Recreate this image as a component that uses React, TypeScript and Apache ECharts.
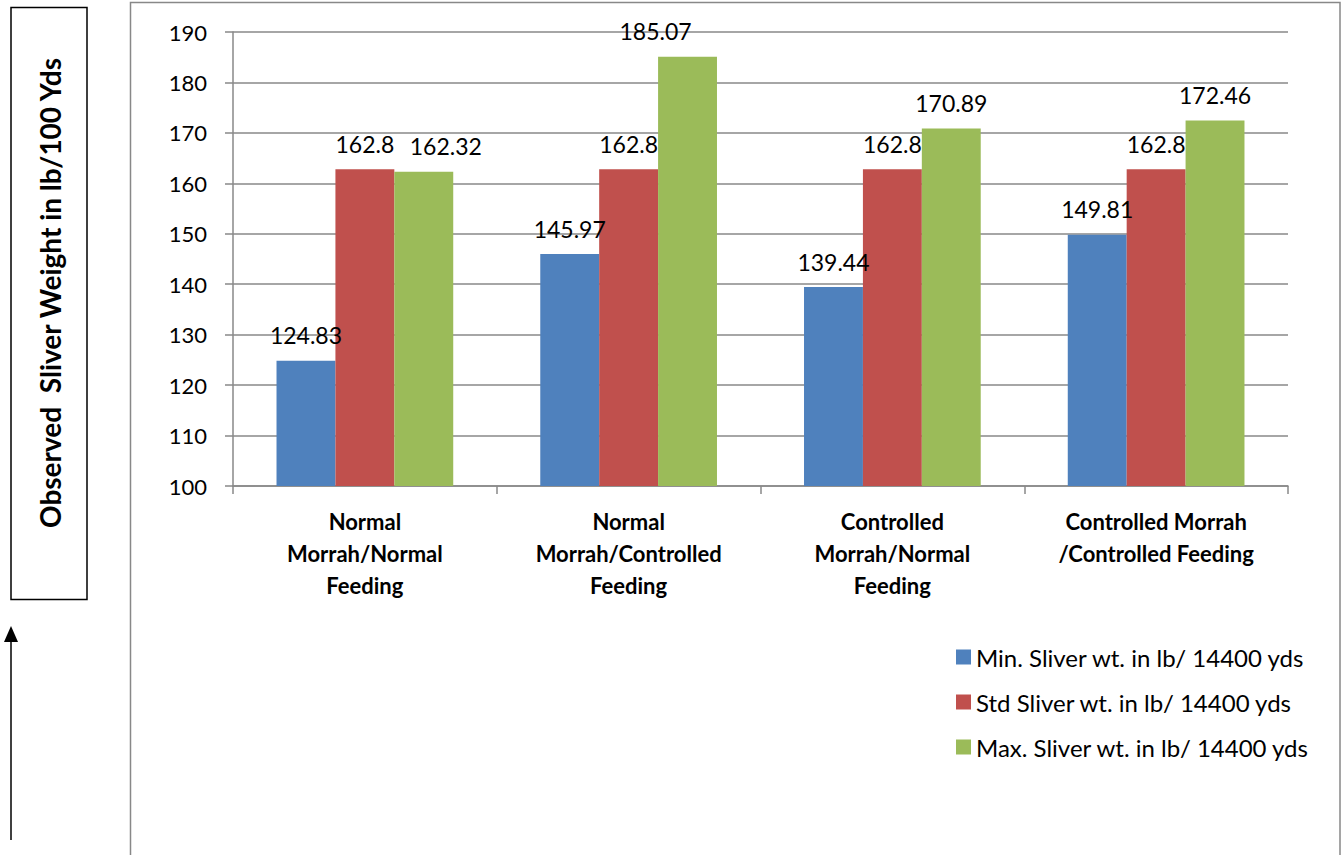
import React, { useEffect, useRef } from "react";
import * as echarts from "echarts";

const categories = [
  "Normal\nMorrah/Normal\nFeeding",
  "Normal\nMorrah/Controlled\nFeeding",
  "Controlled\nMorrah/Normal\nFeeding",
  "Controlled Morrah\n/Controlled Feeding",
];
const seriesNames = [
  "Min. Sliver wt. in lb/ 14400 yds",
  "Std Sliver wt. in lb/ 14400 yds",
  "Max. Sliver wt. in lb/ 14400 yds",
];
const minValues = [124.83, 145.97, 139.44, 149.81];
const stdValues = [162.8, 162.8, 162.8, 162.8];
const maxValues = [162.32, 185.07, 170.89, 172.46];
const yTicks = [100, 110, 120, 130, 140, 150, 160, 170, 180, 190];
const axisTitle = "Observed  Sliver Weight in lb/100 Yds";

const colors = ["#4F81BD", "#C0504D", "#9BBB59"];
const maxLabelOffsets = [[22, 0], [-32, 0], [0, 0], [0, 0]];
const FONT = "Lato, 'Open Sans', sans-serif";

export default function App() {
  const ref = useRef<HTMLDivElement>(null);
  useEffect(() => {
    if (!ref.current) return;
    const chart = echarts.init(ref.current, undefined, { renderer: "svg" });
    const labelBase = {
      show: true,
      position: "top",
      distance: 14,
      fontSize: 23,
      color: "#000",
      fontFamily: FONT,
    };
    const mk = (name: string, vals: number[], color: string, offsets?: number[][]) => ({
      name,
      type: "bar",
      barGap: "0%",
      barCategoryGap: "33%",
      itemStyle: { color },
      label: labelBase,
      data: vals.map((v, i) =>
        offsets ? { value: v, label: { offset: offsets[i] } } : v
      ),
    });
    chart.setOption({
      animation: false,
      textStyle: { fontFamily: FONT },
      grid: { left: 233, right: 53, top: 32, bottom: 369, containLabel: false },
      legend: {
        orient: "vertical",
        left: 951,
        top: 640,
        itemWidth: 15,
        itemHeight: 15,
        itemGap: 21,
        icon: "rect",
        textStyle: { fontSize: 24, color: "#000", fontFamily: FONT },
        data: seriesNames,
      },
      xAxis: {
        type: "category",
        data: categories,
        axisLine: { lineStyle: { color: "#888", width: 1.5 } },
        axisTick: { show: true, length: 8, lineStyle: { color: "#888", width: 1.5 } },
        axisLabel: {
          interval: 0,
          fontSize: 22,
          fontWeight: "bold",
          color: "#000",
          lineHeight: 32,
          margin: 19,
          fontFamily: FONT,
        },
      },
      yAxis: {
        type: "value",
        min: yTicks[0],
        max: yTicks[yTicks.length - 1],
        interval: 10,
        axisLine: { show: true, lineStyle: { color: "#888", width: 1.5 } },
        axisTick: { show: true, length: 8, lineStyle: { color: "#888", width: 1.5 } },
        splitLine: { show: true, lineStyle: { color: "#888", width: 1.5 } },
        axisLabel: { fontSize: 22, color: "#000", margin: 26, fontFamily: FONT },
      },
      graphic: [
        {
          type: "rect",
          shape: { x: 130.5, y: 2.5, width: 1209.5, height: 900 },
          style: { fill: "none", stroke: "#888", lineWidth: 1.5 },
          silent: true,
        },
        {
          type: "rect",
          shape: { x: 11, y: 7.5, width: 76, height: 592 },
          style: { fill: "#fff", stroke: "#000", lineWidth: 1.5 },
          silent: true,
        },
        {
          type: "text",
          x: 50,
          y: 293,
          rotation: Math.PI / 2,
          style: {
            text: axisTitle,
            fontSize: 28,
            fontWeight: "bold",
            fontFamily: FONT,
            fill: "#000",
            align: "center",
            verticalAlign: "middle",
          },
        },
        {
          type: "line",
          shape: { x1: 11, y1: 840, x2: 11, y2: 640 },
          style: { stroke: "#000", lineWidth: 1.5 },
        },
        {
          type: "polygon",
          shape: { points: [[11, 626], [4, 642], [18, 642]] },
          style: { fill: "#000" },
        },
      ],
      series: [
        mk(seriesNames[0], minValues, colors[0]),
        mk(seriesNames[1], stdValues, colors[1]),
        mk(seriesNames[2], maxValues, colors[2], maxLabelOffsets),
      ],
    });
    return () => chart.dispose();
  }, []);
  return (
    <div
      ref={ref}
      style={{ position: "fixed", left: 0, top: 0, width: 1341, height: 855, background: "#fff" }}
    />
  );
}
